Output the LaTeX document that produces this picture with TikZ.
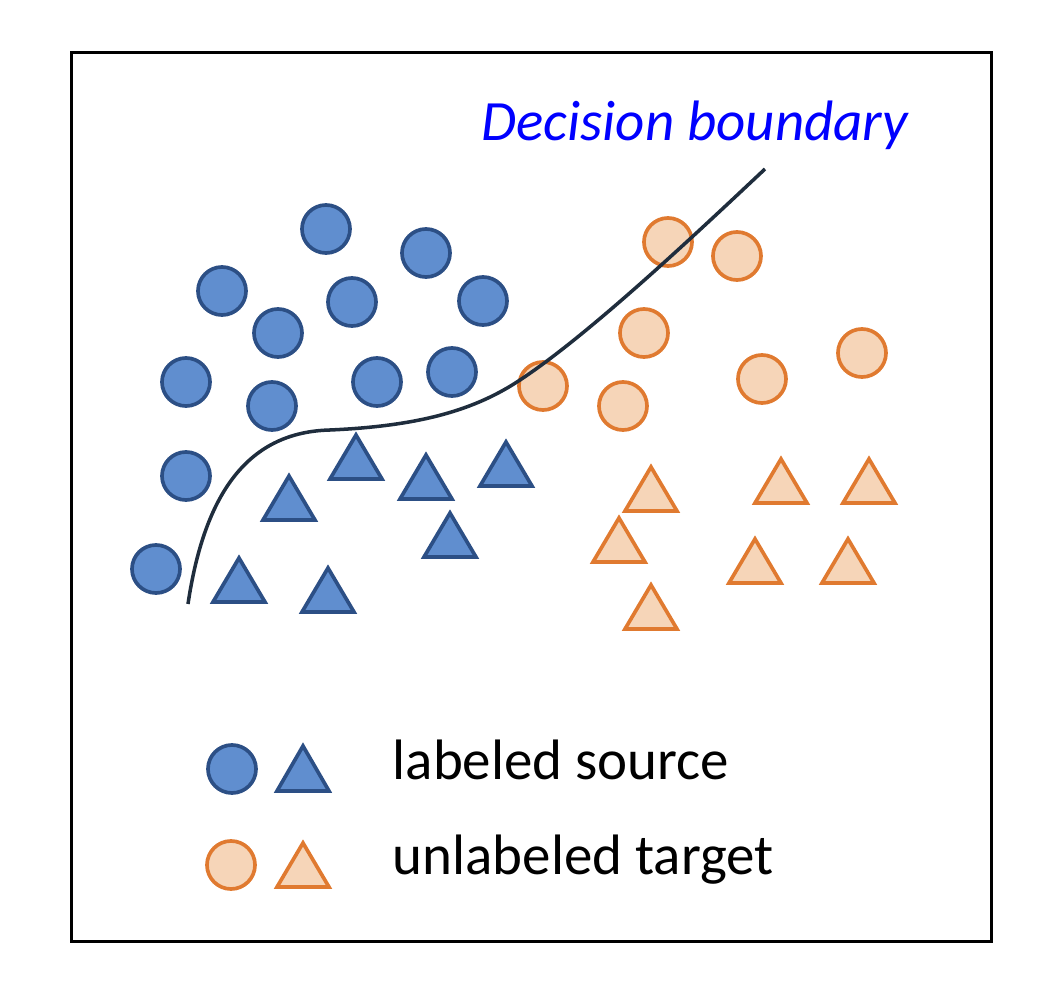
\documentclass[tikz,border=0pt]{standalone}
\usepackage{fontspec}
\setmainfont{Carlito}
\definecolor{srcfill}{HTML}{608ECF}
\definecolor{srcline}{HTML}{2C4F85}
\definecolor{tgtfill}{HTML}{F6D5B8}
\definecolor{tgtline}{HTML}{E07A30}
\definecolor{curvecol}{HTML}{1F2D3D}
\begin{document}
\begin{tikzpicture}[x=0.01cm,y=-0.01cm,
        srcdot/.style={circle,fill=srcfill,draw=srcline,line width=1.05pt,
            minimum size=0.48cm,inner sep=0pt},
        tgtdot/.style={circle,fill=tgtfill,draw=tgtline,line width=1.05pt,
            minimum size=0.48cm,inner sep=0pt},
        srctri/.style={fill=srcfill,draw=srcline,line width=1.05pt},
        tgttri/.style={fill=tgtfill,draw=tgtline,line width=1.05pt},
        legtext/.style={font=\fontsize{16.2}{19}\selectfont,anchor=base west,inner sep=0pt}]
\useasboundingbox (0,0) rectangle (1056,1000);
\draw[line width=1.05pt] (71.5,52.5) rectangle (991.5,941.5);

% labeled source
\foreach \x/\y [count=\i] in {326/229,426/253,222/291,352/302,483/301,278/333,
        186/382,272/406,377/382,452/372,186/476,156/569}
    \node[srcdot] (src\i) at (\x,\y) {};
\foreach \x/\y in {356/435,289/476,426/455,506/442,450/513,239/558,328/568}
    \draw[srctri] (\x,\y) -- ++(-26,44) -- ++(52,0) -- cycle;

% unlabeled target
\foreach \x/\y [count=\i] in {668/242,737/256,644/333,543/386,623/406,762/379,862/353}
    \node[tgtdot] (tgt\i) at (\x,\y) {};
\foreach \x/\y in {651/467,781/459,869/459,619/518,755/539,848/539,651/585}
    \draw[tgttri] (\x,\y) -- ++(-26,44) -- ++(52,0) -- cycle;

% boundary
\draw[curvecol, line width=1pt] (188,604) .. controls (205,490) and (250,432) .. (330,430)
    .. controls (420,426) and (475,410) .. (520,380)
    .. controls (590,334) and (700,230) .. (765,169);
\node[legtext,text=blue,font=\fontsize{16.2}{19}\selectfont\itshape] (title) at (481,140) {Decision boundary};

% legend
\node[srcdot] (legsrc) at (232,769) {};
\draw[srctri] (303,746) -- ++(-26,45) -- ++(52,0) -- cycle;
\node[legtext] (srctext) at (392,780) {labeled source};
\node[tgtdot] (legtgt) at (231,865) {};
\draw[tgttri] (303,843) -- ++(-26,44) -- ++(52,0) -- cycle;
\node[legtext] (tgttext) at (392,875) {unlabeled target};
\end{tikzpicture}
\end{document}
